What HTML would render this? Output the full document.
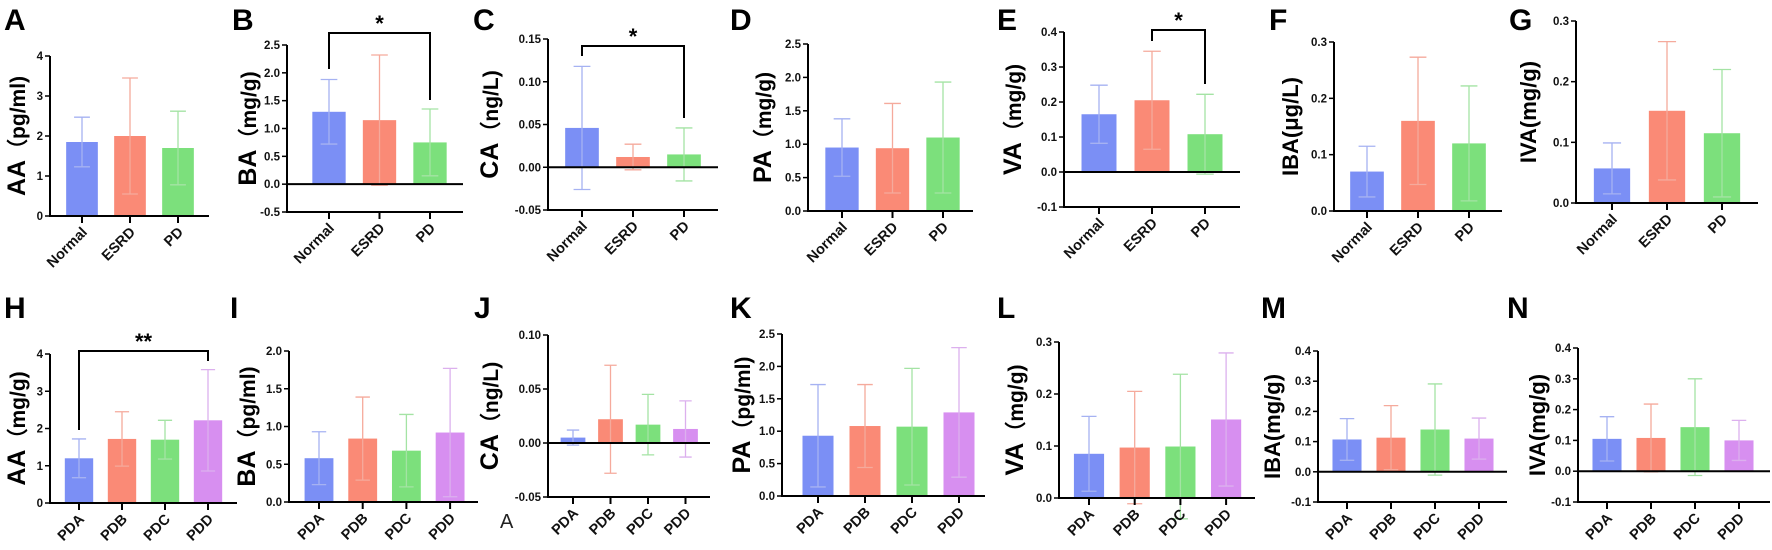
<!DOCTYPE html>
<html><head><meta charset="utf-8">
<style>
html,body{margin:0;padding:0;background:#fff;}
svg{display:block;font-family:"Liberation Sans",Arial,sans-serif;}
</style></head>
<body>
<svg id="fig" width="1772" height="550" viewBox="0 0 1772 550" xmlns="http://www.w3.org/2000/svg"></svg>
<script>
// ---- data ----
const catsTop = ["Normal","ESRD","PD"];
const catsBot = ["PDA","PDB","PDC","PDD"];
const meanA=[1.85,2.0,1.7],   sdA=[0.62,1.45,0.92];
const meanB=[1.3,1.15,0.75],  sdB=[0.58,1.17,0.6];
const meanC=[0.046,0.012,0.015], sdC=[0.072,0.015,0.031];
const meanD=[0.95,0.94,1.1],  sdD=[0.43,0.67,0.83];
const meanE=[0.165,0.205,0.108], sdE=[0.083,0.14,0.114];
const meanF=[0.07,0.16,0.12], sdF=[0.045,0.113,0.102];
const meanG=[0.057,0.152,0.115], sdG=[0.042,0.114,0.105];
const meanH=[1.2,1.72,1.7,2.22], sdH=[0.52,0.73,0.52,1.36];
const meanI=[0.58,0.84,0.68,0.92], sdI=[0.35,0.55,0.48,0.85];
const meanJ=[0.005,0.022,0.017,0.013], sdJ=[0.007,0.05,0.028,0.026];
const meanK=[0.93,1.08,1.07,1.29], sdK=[0.79,0.64,0.9,1.0];
const meanL=[0.085,0.097,0.099,0.151], sdL=[0.072,0.108,0.139,0.128];
const meanM=[0.107,0.113,0.14,0.11], sdM=[0.069,0.106,0.151,0.068];
const meanN=[0.105,0.108,0.143,0.1], sdN=[0.072,0.11,0.157,0.065];
const ticksA=[0,1,2,3,4], ticksB=[-0.5,0,0.5,1,1.5,2,2.5], ticksC=[-0.05,0,0.05,0.1,0.15];
const ticksD=[0,0.5,1,1.5,2,2.5], ticksE=[-0.1,0,0.1,0.2,0.3,0.4], ticksF=[0,0.1,0.2,0.3];
const ticksH=[0,1,2,3,4], ticksI=[0,0.5,1,1.5,2], ticksJ=[-0.05,0,0.05,0.1];
const ticksL=[0,0.1,0.2,0.3], ticksM=[-0.1,0,0.1,0.2,0.3,0.4];

const fills=["#7b8ff5","#fa8a76","#7ce07c","#d78ff0"];
const errc=["#a6b2f2","#f5aa9c","#a4e3a4","#dcb0ee"];

// ---- layout ----
const panels=[
 {id:"A",cats:catsTop,m:meanA,s:sdA,t:ticksA,dec:0,x0:50,x1:209,yT:56,yB:216,lx:4,ly:30,tx:17,title:["AA","（pg/ml)"]},
 {id:"B",cats:catsTop,m:meanB,s:sdB,t:ticksB,dec:1,x0:287,x1:463,yT:45,yB:212,lx:232,ly:30,tx:248,title:["BA","（mg/g)"],sig:{a:0,b:2,y:33,ya:69,yb:100,txt:"*"}},
 {id:"C",cats:catsTop,m:meanC,s:sdC,t:ticksC,dec:2,x0:548,x1:718,yT:39,yB:210,lx:473,ly:30,tx:490,title:["CA","（ng/L)"],sig:{a:0,b:2,y:46,ya:56,yb:118,txt:"*"}},
 {id:"D",cats:catsTop,m:meanD,s:sdD,t:ticksD,dec:1,x0:808,x1:973,yT:44,yB:211,lx:730,ly:30,tx:763,title:["PA","（mg/g)"]},
 {id:"E",cats:catsTop,m:meanE,s:sdE,t:ticksE,dec:1,x0:1064,x1:1240,yT:32,yB:207,lx:997,ly:30,tx:1013,title:["VA","（mg/g)"],sig:{a:1,b:2,y:30,ya:41,yb:84,txt:"*"}},
 {id:"F",cats:catsTop,m:meanF,s:sdF,t:ticksF,dec:1,x0:1334,x1:1502,yT:42,yB:211,lx:1269,ly:30,tx:1290,title:["IBA(μg/L)",""]},
 {id:"G",cats:catsTop,m:meanG,s:sdG,t:ticksF,dec:1,x0:1576,x1:1758,yT:21,yB:203,lx:1509,ly:30,tx:1528,title:["IVA(mg/g)",""]},
 {id:"H",cats:catsBot,m:meanH,s:sdH,t:ticksH,dec:0,x0:50,x1:237,yT:354,yB:503,lx:4,ly:318,tx:17,title:["AA","（mg/g)"],sig:{a:0,b:3,y:351,ya:430,yb:361,txt:"**"}},
 {id:"I",cats:catsBot,m:meanI,s:sdI,t:ticksI,dec:1,x0:289,x1:478,yT:351,yB:502,lx:230,ly:318,tx:247,title:["BA","（pg/ml)"]},
 {id:"J",cats:catsBot,m:meanJ,s:sdJ,t:ticksJ,dec:2,x0:548,x1:710,yT:335,yB:497,lx:474,ly:318,tx:490,title:["CA","（ng/L)"]},
 {id:"K",cats:catsBot,m:meanK,s:sdK,t:ticksD,dec:1,x0:782,x1:985,yT:334,yB:496,lx:730,ly:318,tx:742,title:["PA","（pg/ml)"]},
 {id:"L",cats:catsBot,m:meanL,s:sdL,t:ticksL,dec:1,x0:1059,x1:1255,yT:342,yB:498,lx:997,ly:318,tx:1015,title:["VA","（mg/g)"]},
 {id:"M",cats:catsBot,m:meanM,s:sdM,t:ticksM,dec:1,x0:1318,x1:1507,yT:351,yB:502,lx:1261,ly:318,tx:1272,title:["IBA(mg/g)",""]},
 {id:"N",cats:catsBot,m:meanN,s:sdN,t:ticksM,dec:1,x0:1578,x1:1770,yT:348,yB:502,lx:1507,ly:318,tx:1537,title:["IVA(mg/g)",""]}
];
const firstCat={A:82,B:329,C:582,D:842,E:1099,F:1367,G:1612,H:79,I:319,J:573,K:818,L:1089,M:1347,N:1607};
const catStep={A:48,B:50.5,C:51,D:50.5,E:53,F:51,G:55,H:43,I:43.7,J:37.5,K:47,L:45.7,M:44,N:44};

const NS="http://www.w3.org/2000/svg";
const svg=document.getElementById("fig");
function mk(tag,attrs,parent){const e=document.createElementNS(NS,tag);for(const k in attrs)e.setAttribute(k,attrs[k]);(parent||svg).appendChild(e);return e;}

panels.forEach(p=>{
  const g=mk("g",{});
  
  
  const tmin=p.t[0], tmax=p.t[p.t.length-1];
  const y=v=>p.yB-(v-tmin)/(tmax-tmin)*(p.yB-p.yT);
  const step=catStep[p.id];
  const cx=i=>firstCat[p.id]+i*step;
  const bw=step*0.66, cap=step*0.33;
  // panel letter
  const L=mk("text",{x:p.lx,y:p.ly,"font-size":30,"font-weight":"bold",fill:"#000"},g);
  L.textContent=p.id;
  
  
  // bars
  p.m.forEach((v,i)=>{
    const y0=y(0), yv=y(v);
    const r=mk("rect",{x:cx(i)-bw/2,y:Math.min(y0,yv),width:bw,height:Math.abs(y0-yv),fill:fills[i]},g);
    
    
    const hi=y(v+p.s[i]), lo=y(v-p.s[i]);
    const eb=mk("path",{d:`M${cx(i)},${hi}V${lo}M${cx(i)-cap/2},${hi}H${cx(i)+cap/2}M${cx(i)-cap/2},${lo}H${cx(i)+cap/2}`,stroke:errc[i],"stroke-width":1.3,fill:"none"},g);
    
    
  });
  // y axis
  const ya=mk("line",{x1:p.x0,y1:p.yT,x2:p.x0,y2:p.yB+1,stroke:"#000","stroke-width":2},g);
  
  
  p.t.forEach(tv=>{
    mk("line",{x1:p.x0-5,y1:y(tv),x2:p.x0,y2:y(tv),stroke:"#000","stroke-width":1.5},g);
    const tl=mk("text",{x:p.x0-7,y:y(tv)+4,"font-size":11.5,"font-weight":"bold","text-anchor":"end",fill:"#111"},g);
    tl.textContent=tv.toFixed(p.dec);
    
    
  });
  // x axis (bottom) and zero line
  const xa=mk("line",{x1:p.x0-1,y1:p.yB,x2:p.x1,y2:p.yB,stroke:"#000","stroke-width":2},g);
  
  
  if(tmin<0){
    const zl=mk("line",{x1:p.x0-1,y1:y(0),x2:p.x1,y2:y(0),stroke:"#000","stroke-width":2},g);
    
    
  }
  p.cats.forEach((c,i)=>{
    mk("line",{x1:cx(i),y1:p.yB,x2:cx(i),y2:p.yB+7,stroke:"#000","stroke-width":2},g);
    const ax=cx(i)+6, ay=p.yB+17;
    const cl=mk("text",{x:ax,y:ay,"font-size":14.5,"font-weight":"bold","text-anchor":"end",fill:"#111",transform:`rotate(-45 ${ax} ${ay})`},g);
    cl.textContent=c;
    
    
  });
  // y title
  const ty=(p.yT+p.yB)/2;
  const yt=mk("text",{x:p.tx,y:ty,"font-size":21,"font-weight":"bold","text-anchor":"middle",fill:"#000",transform:`rotate(-90 ${p.tx} ${ty}) translate(0 8)`},g);
  
  
  const t1=mk("tspan",{"font-size":p.title[1]?25:22},yt); t1.textContent=p.title[0];
  if(p.title[1]){const t2=mk("tspan",{},yt);t2.textContent=p.title[1];}
  // significance
  if(p.sig){
    const s=p.sig, xa2=cx(s.a), xb=cx(s.b);
    const br=mk("path",{d:`M${xa2},${s.ya}V${s.y}H${xb}V${s.yb}`,stroke:"#000","stroke-width":2,fill:"none"},g);
    
    
    const st=mk("text",{x:(xa2+xb)/2,y:s.y-2,"font-size":22,"font-weight":"bold","text-anchor":"middle",fill:"#000"},g);
    st.textContent=s.txt;
    
    
  }
});
// stray "A" character in panel J
const stray=mk("text",{x:500,y:528,"font-size":20,fill:"#222"});
stray.textContent="A";


</script>
</body></html>
